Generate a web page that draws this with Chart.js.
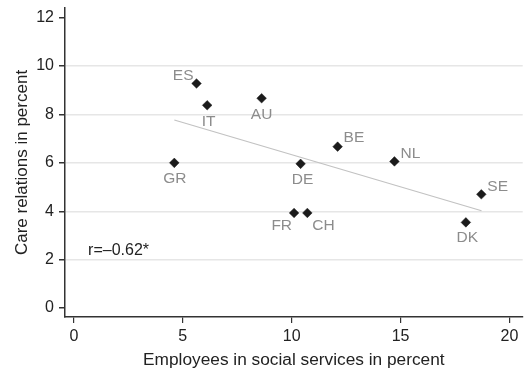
<!DOCTYPE html>
<html>
<head>
<meta charset="utf-8">
<title>Care relations vs. employees in social services</title>
<script src="https://cdn.jsdelivr.net/npm/chart.js@4/dist/chart.umd.min.js"></script>
<style>
  html, body { margin: 0; padding: 0; background: #ffffff; }
  #wrap { width: 528px; height: 371px; }
</style>
</head>
<body>
<div id="wrap"><canvas id="chart" width="528" height="371"></canvas></div>
<script>
// Country codes and values (percent)
const countries = ['ES', 'IT', 'AU', 'GR', 'BE', 'NL', 'DE', 'SE', 'DK', 'FR', 'CH'];
const socialServiceEmployees = [5.63, 6.12, 8.62, 4.61, 12.11, 14.72, 10.41, 18.71, 18.0, 10.11, 10.72];
const careRelations = [9.28, 8.38, 8.67, 6.0, 6.67, 6.06, 5.96, 4.70, 3.54, 3.93, 3.93];

// Fitted line endpoints
const fitX = [4.61, 18.72];
const fitY = [7.77, 4.02];

// Axis ticks
const xTicks = [0, 5, 10, 15, 20];
const yTicks = [0, 2, 4, 6, 8, 10, 12];

const correlationText = 'r=\u20130.62*';

// Where each country label sits relative to its marker
const labelPlacement = {
  ES: { align: 'right',  dx: -3,  dy: -8 },
  IT: { align: 'center', dx: 1.5, dy: 16 },
  AU: { align: 'center', dx: 0,   dy: 16 },
  GR: { align: 'center', dx: 0.5, dy: 15.5 },
  BE: { align: 'left',   dx: 6,   dy: -8.5 },
  NL: { align: 'left',   dx: 6,   dy: -8 },
  DE: { align: 'center', dx: 2,   dy: 15.5 },
  SE: { align: 'left',   dx: 6,   dy: -7.5 },
  DK: { align: 'center', dx: 1.5, dy: 15 },
  FR: { align: 'right',  dx: -2,  dy: 13 },
  CH: { align: 'left',   dx: 5,   dy: 13 }
};

const FONT = '"Liberation Sans", Arial, Helvetica, sans-serif';

const points = countries.map((c, i) => ({ x: socialServiceEmployees[i], y: careRelations[i] }));
const fitPoints = fitX.map((x, i) => ({ x: x, y: fitY[i] }));

const countryLabels = {
  id: 'countryLabels',
  afterDatasetsDraw(chart) {
    const { ctx, scales } = chart;
    const meta = chart.getDatasetMeta(1);
    ctx.save();
    ctx.font = '15.5px ' + FONT;
    ctx.fillStyle = '#8c8c8c';
    ctx.textBaseline = 'middle';
    meta.data.forEach((el, i) => {
      const p = labelPlacement[countries[i]];
      ctx.textAlign = p.align;
      ctx.fillText(countries[i], el.x + p.dx, el.y + p.dy);
    });
    // correlation coefficient
    ctx.font = '16px ' + FONT;
    ctx.fillStyle = '#222222';
    ctx.textAlign = 'left';
    ctx.fillText(correlationText, scales.x.getPixelForValue(0.65), scales.y.getPixelForValue(2.36));
    ctx.restore();
  }
};

new Chart(document.getElementById('chart'), {
  data: {
    datasets: [
      {
        type: 'line',
        data: fitPoints,
        borderColor: '#c2c2c2',
        borderWidth: 1.2,
        pointRadius: 0,
        fill: false,
        order: 2
      },
      {
        type: 'scatter',
        data: points,
        pointStyle: 'rectRot',
        pointRadius: 4.8,
        backgroundColor: '#1b1b1b',
        borderColor: '#1b1b1b',
        borderWidth: 0.5,
        order: 1
      }
    ]
  },
  options: {
    responsive: false,
    animation: false,
    devicePixelRatio: 1,
    layout: { padding: { top: 8, right: -3, left: 0, bottom: 0 } },
    plugins: {
      legend: { display: false },
      tooltip: { enabled: false }
    },
    scales: {
      x: {
        type: 'linear',
        min: -0.41,
        max: 20.61,
        afterBuildTicks(scale) { scale.ticks = xTicks.map(v => ({ value: v })); },
        afterFit(scale) {
          scale.height = 54;
          scale.paddingLeft = 0;
          scale.paddingRight = 0;
        },
        border: { display: true, color: '#333333', width: 1.5 },
        grid: {
          drawOnChartArea: false,
          drawTicks: true,
          tickLength: 6,
          tickColor: '#333333',
          lineWidth: 1.2
        },
        ticks: {
          color: '#222222',
          font: { family: FONT, size: 16 },
          padding: 4,
          maxRotation: 0
        },
        title: {
          display: true,
          text: 'Employees in social services in percent',
          color: '#222222',
          font: { family: FONT, size: 17.3 },
          padding: { top: 0, bottom: 0 }
        }
      },
      y: {
        type: 'linear',
        min: -0.37,
        max: 12.4,
        afterBuildTicks(scale) { scale.ticks = yTicks.map(v => ({ value: v })); },
        afterFit(scale) {
          scale.width = 65;
          scale.paddingTop = 0;
          scale.paddingBottom = 0;
        },
        border: { display: true, color: '#333333', width: 1.5 },
        grid: {
          drawOnChartArea: true,
          drawTicks: true,
          tickLength: 6,
          color: ctx => (ctx.tick && (ctx.tick.value === 0 || ctx.tick.value === 12)) ? 'rgba(0,0,0,0)' : '#e6e6e6',
          tickColor: '#333333',
          lineWidth: 1.5
        },
        ticks: {
          color: '#222222',
          font: { family: FONT, size: 16 },
          padding: 5
        },
        title: {
          display: true,
          text: 'Care relations in percent',
          color: '#222222',
          font: { family: FONT, size: 17 },
          padding: { top: 12, bottom: 0 }
        }
      }
    }
  },
  plugins: [countryLabels]
});
</script>
</body>
</html>
